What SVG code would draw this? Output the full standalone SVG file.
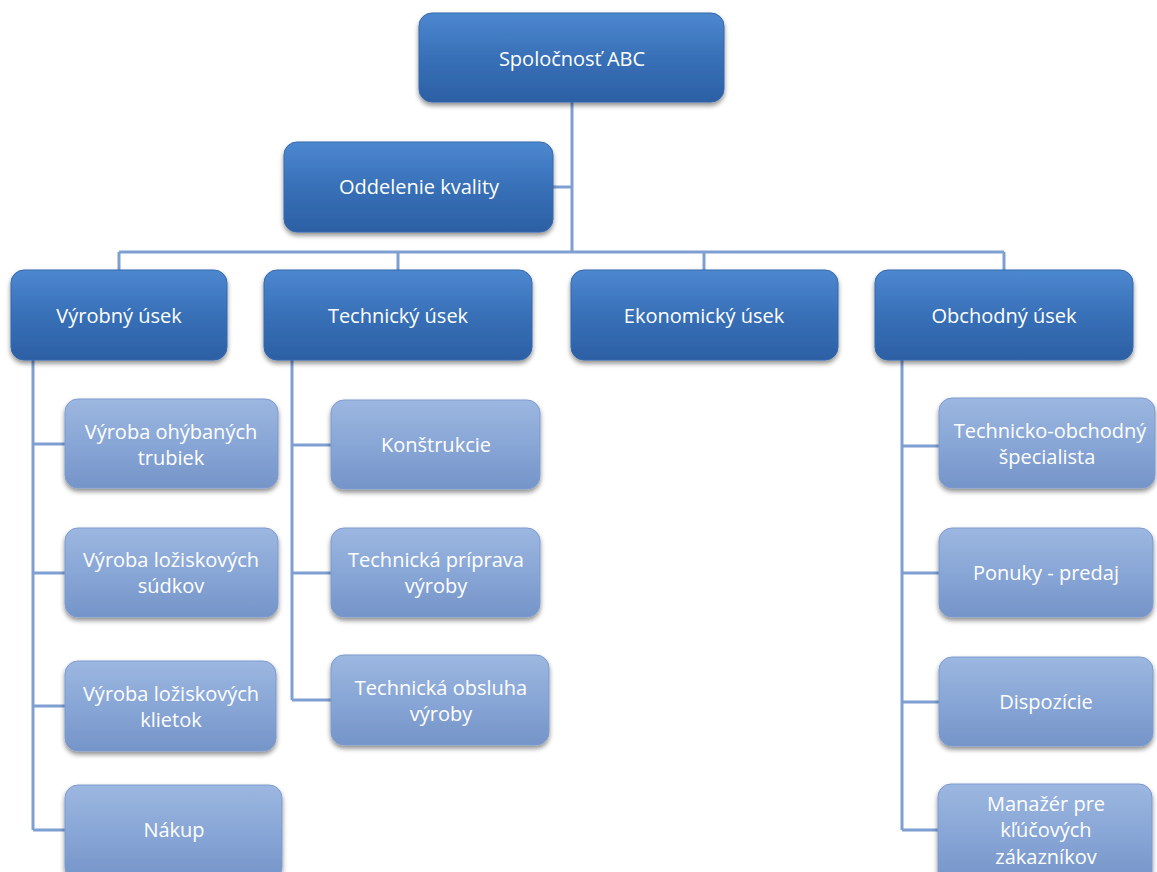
<svg xmlns="http://www.w3.org/2000/svg" width="1157" height="872" viewBox="0 0 1157 872">
<defs>
<linearGradient id="gDark" x1="0" y1="0" x2="0" y2="1">
<stop offset="0" stop-color="#4d88cf"/>
<stop offset="0.5" stop-color="#3870b8"/>
<stop offset="1" stop-color="#2c60a4"/>
</linearGradient>
<linearGradient id="gLight" x1="0" y1="0" x2="0" y2="1">
<stop offset="0" stop-color="#9cb7e0"/>
<stop offset="0.5" stop-color="#88a6d6"/>
<stop offset="1" stop-color="#7594c8"/>
</linearGradient>
<filter id="sh" x="-10%" y="-10%" width="120%" height="130%">
<feGaussianBlur in="SourceAlpha" stdDeviation="2.5"/>
<feOffset dx="0" dy="3" result="b"/>
<feComponentTransfer><feFuncA type="linear" slope="0.45"/></feComponentTransfer>
<feMerge><feMergeNode/><feMergeNode in="SourceGraphic"/></feMerge>
</filter>
</defs>
<style>
.dark{fill:url(#gDark);stroke:#3468ad;stroke-width:1;filter:url(#sh)}
.light{fill:url(#gLight);stroke:#7d9bcf;stroke-width:1;filter:url(#sh)}
.t{font-family:"Open Sans","Liberation Sans",sans-serif;font-size:20px;fill:#ffffff;text-anchor:middle}
.c{fill:none;stroke:#7f9fd3;stroke-width:3}
</style>
<rect width="1157" height="872" fill="#ffffff"/>
<g id="connectors">
<path class="c" d="M572,102 V252 M553,187 H572 M119,252 H1004 M119,252 V270 M398,252 V270 M704,252 V270 M1004,252 V270"/>
<path class="c" d="M33,360 V830 M33,444 H65 M33,573 H65 M33,706 H65 M33,830 H65"/>
<path class="c" d="M292,360 V700 M292,445 H331 M292,573 H331 M292,700 H331"/>
<path class="c" d="M902,360 V830 M902,446 H939 M902,573 H939 M902,702 H939 M902,830 H938"/>
</g>
<g id="n-abc"><rect class="dark" x="419" y="13" width="305" height="89" rx="13"/><text class="t" x="572" y="66">Spoločnosť ABC</text></g>
<g id="n-kvalita"><rect class="dark" x="284" y="142" width="269" height="90" rx="13"/><text class="t" x="419" y="194">Oddelenie kvality</text></g>
<g id="n-vyrobny"><rect class="dark" x="11" y="270" width="216" height="90" rx="13"/><text class="t" x="119" y="323">Výrobný úsek</text></g>
<g id="n-technicky"><rect class="dark" x="264" y="270" width="268" height="90" rx="13"/><text class="t" x="398" y="323">Technický úsek</text></g>
<g id="n-ekonomicky"><rect class="dark" x="571" y="270" width="267" height="90" rx="13"/><text class="t" x="704" y="323">Ekonomický úsek</text></g>
<g id="n-obchodny"><rect class="dark" x="875" y="270" width="258" height="90" rx="13"/><text class="t" x="1004" y="323">Obchodný úsek</text></g>
<g id="n-v1"><rect class="light" x="65" y="399" width="213" height="89" rx="13"/><text class="t" x="171" y="439">Výroba ohýbaných</text><text class="t" x="171" y="465">trubiek</text></g>
<g id="n-v2"><rect class="light" x="65" y="528" width="213" height="89" rx="13"/><text class="t" x="171" y="567">Výroba ložiskových</text><text class="t" x="171" y="593">súdkov</text></g>
<g id="n-v3"><rect class="light" x="65" y="661" width="211" height="90" rx="13"/><text class="t" x="171" y="701">Výroba ložiskových</text><text class="t" x="171" y="727">klietok</text></g>
<g id="n-v4"><rect class="light" x="65" y="785" width="217" height="95" rx="13"/><text class="t" x="174" y="837">Nákup</text></g>
<g id="n-t1"><rect class="light" x="331" y="400" width="209" height="89" rx="13"/><text class="t" x="436" y="452">Konštrukcie</text></g>
<g id="n-t2"><rect class="light" x="331" y="528" width="209" height="89" rx="13"/><text class="t" x="436" y="567">Technická príprava</text><text class="t" x="436" y="593">výroby</text></g>
<g id="n-t3"><rect class="light" x="331" y="655" width="218" height="90" rx="13"/><text class="t" x="441" y="695">Technická obsluha</text><text class="t" x="441" y="721">výroby</text></g>
<g id="n-o1"><rect class="light" x="939" y="398" width="216" height="90" rx="13"/><text class="t" x="1050" y="438">Technicko-obchodný</text><text class="t" x="1047" y="464">špecialista</text></g>
<g id="n-o2"><rect class="light" x="939" y="528" width="214" height="89" rx="13"/><text class="t" x="1046" y="580">Ponuky - predaj</text></g>
<g id="n-o3"><rect class="light" x="939" y="657" width="214" height="89" rx="13"/><text class="t" x="1046" y="709">Dispozície</text></g>
<g id="n-o4"><rect class="light" x="938" y="784" width="214" height="100" rx="13"/><text class="t" x="1046" y="811">Manažér pre</text><text class="t" x="1046" y="837">kľúčových</text><text class="t" x="1046" y="864">zákazníkov</text></g>
</svg>
